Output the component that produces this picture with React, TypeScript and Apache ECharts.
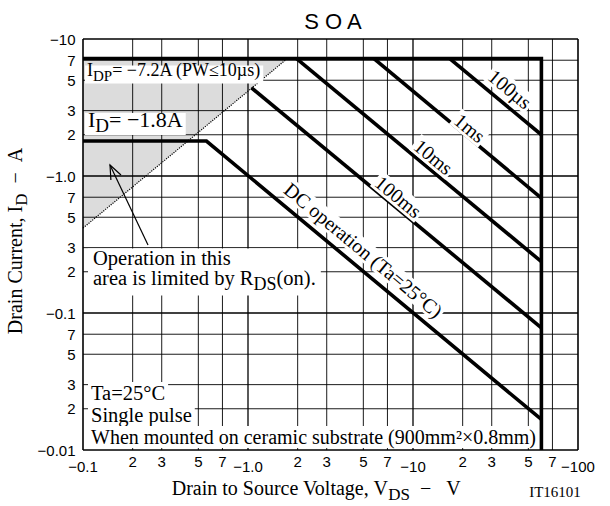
import React, { useEffect, useRef } from 'react';
import * as echarts from 'echarts';

const SERIF = '"Liberation Serif", "Times New Roman", serif';
const SANS = '"Liberation Sans", Arial, sans-serif';

const X_MIN = 0.1;
const X_MAX = 100;
const Y_MIN = 0.01;
const Y_MAX = 10;

const xGridValues = [0.1, 0.2, 0.3, 0.5, 0.7, 1, 2, 3, 5, 7, 10, 20, 30, 50, 70, 100];
const xTickLabels = ['−0.1', '2', '3', '5', '7', '−1.0', '2', '3', '5', '7', '−10', '2', '3', '5', '7', '−100'];
const yGridValues = [0.01, 0.02, 0.03, 0.05, 0.07, 0.1, 0.2, 0.3, 0.5, 0.7, 1, 2, 3, 5, 7, 10];
const yTickLabels = ['−0.01', '2', '3', '5', '7', '−0.1', '2', '3', '5', '7', '−1.0', '2', '3', '5', '7', '−10'];

// SOA boundaries (|VDS| in V, |ID| in A)
const envelopeLine = [[0.1, 7.2], [60, 7.2], [60, 0.01]];
const dcLine = [[0.1, 1.8], [0.56, 1.8], [60, 0.0167]];
const pulse100us = [[16.7, 7.2], [60, 2.0]];
const pulse1ms = [[5.8, 7.2], [60, 0.69]];
const pulse10ms = [[1.97, 7.2], [60, 0.237]];
const pulse100ms = [[1.05, 4.4], [60, 0.078]];
const rdsOnLine = [[0.1, 0.417], [1.73, 7.2]];
const rdsOnArea = [[0.1, 7.2], [1.73, 7.2], [0.1, 0.417]];

const curveLabels = ['100µs', '1ms', '10ms', '100ms', 'DC operation (Ta=25°C)'];
const curveLabelX = [38.7, 22.1, 13.3, 8.15, 5.0];
const curveLabelY = [4.3, 2.24, 1.38, 0.706, 0.288];

function rich(F: number, Fs: number, pb: number) {
  return {
    m: { fontFamily: SERIF, fontSize: F, lineHeight: F, padding: [0, 0, pb, 0], verticalAlign: 'bottom', fill: '#000' },
    s: { fontFamily: SERIF, fontSize: Fs, lineHeight: Fs, verticalAlign: 'bottom', fill: '#000' },
  };
}

function lineSeries(name: string, data: number[][], width = 3.6, dotted = false) {
  return {
    name,
    type: 'line',
    data,
    symbol: 'none',
    showSymbol: false,
    silent: true,
    clip: false,
    z: dotted ? 3 : 4,
    lineStyle: { color: '#000', width, type: dotted ? 'dotted' : 'solid', cap: 'butt', join: 'miter' },
  };
}

function buildOption() {
  const series: any[] = [
    {
      type: 'custom',
      z: 1,
      silent: true,
      data: rdsOnArea,
      encode: { x: 0, y: 1 },
      renderItem: (params: any, api: any) =>
        params.dataIndex === 0
          ? { type: 'polygon', shape: { points: rdsOnArea.map((p) => api.coord(p)) }, style: { fill: '#dcdcdc' } }
          : null,
    },
    {
      type: 'custom',
      z: 2,
      silent: true,
      data: xGridValues.map((v) => [v, Y_MIN]),
      encode: { x: 0, y: 1 },
      renderItem: (params: any, api: any) => {
        const i = params.dataIndex;
        const v = xGridValues[i];
        const a = api.coord([v, Y_MIN]);
        const b = api.coord([v, Y_MAX]);
        const decade = xTickLabels[i].startsWith('−');
        const edge = i === 0 || i === xGridValues.length - 1;
        return {
          type: 'group',
          children: [
            { type: 'line', shape: { x1: a[0], y1: a[1], x2: b[0], y2: b[1] }, style: { stroke: '#000', lineWidth: edge ? 1.6 : decade ? 1.3 : 0.9 } },
            {
              type: 'text',
              x: a[0],
              y: a[1] + (decade ? 16 : 11),
              style: { text: xTickLabels[i], fontFamily: SANS, fontSize: 15, fill: '#000', align: 'center', verticalAlign: 'middle' },
            },
          ],
        };
      },
    },
    {
      type: 'custom',
      z: 2,
      silent: true,
      data: yGridValues.map((v) => [X_MIN, v]),
      encode: { x: 0, y: 1 },
      renderItem: (params: any, api: any) => {
        const i = params.dataIndex;
        const v = yGridValues[i];
        const a = api.coord([X_MIN, v]);
        const b = api.coord([X_MAX, v]);
        const decade = yTickLabels[i].startsWith('−');
        const edge = i === 0 || i === yGridValues.length - 1;
        return {
          type: 'group',
          children: [
            { type: 'line', shape: { x1: a[0], y1: a[1], x2: b[0], y2: b[1] }, style: { stroke: '#000', lineWidth: edge ? 1.6 : decade ? 1.3 : 0.9 } },
            {
              type: 'text',
              x: a[0] - 7.5,
              y: a[1],
              style: { text: yTickLabels[i], fontFamily: SANS, fontSize: 15, fill: '#000', align: 'right', verticalAlign: 'middle' },
            },
          ],
        };
      },
    },
    lineSeries('RDS(on) limit', rdsOnLine, 1.2, true),
    lineSeries('Envelope', envelopeLine),
    lineSeries('DC', dcLine),
    lineSeries('100µs', pulse100us),
    lineSeries('1ms', pulse1ms),
    lineSeries('10ms', pulse10ms),
    lineSeries('100ms', pulse100ms),
    {
      type: 'custom',
      z: 5,
      silent: true,
      data: curveLabelX.map((x, i) => [x, curveLabelY[i]]),
      encode: { x: 0, y: 1 },
      renderItem: (params: any, api: any) => {
        const i = params.dataIndex;
        const x = curveLabelX[i];
        const y = curveLabelY[i];
        const c1 = api.coord([x, y]);
        const c2 = api.coord([x * 10, y / 10]);
        const ang = Math.atan2(c2[1] - c1[1], c2[0] - c1[0]);
        return {
          type: 'text',
          x: c1[0],
          y: c1[1],
          rotation: -ang,
          style: {
            text: curveLabels[i],
            fontFamily: SERIF,
            fontSize: 20,
            fill: '#000',
            align: 'center',
            verticalAlign: 'middle',
            backgroundColor: '#fff',
            padding: [0, 2],
          },
        };
      },
    },
  ];

  const plainText = (text: string, x: number, y: number, size: number) => ({
    type: 'text',
    x,
    y,
    z: 10,
    style: {
      text,
      fontFamily: SERIF,
      fontSize: size,
      lineHeight: 22,
      fill: '#000',
      align: 'left',
      verticalAlign: 'middle',
      backgroundColor: '#fff',
      padding: [0, 3],
    },
  });

  const graphic: any[] = [
    {
      type: 'text',
      x: 333,
      y: 21,
      z: 10,
      style: { text: 'S O A', fontFamily: SANS, fontSize: 22, fill: '#000', align: 'center', verticalAlign: 'middle' },
    },
    {
      type: 'text',
      x: 20,
      y: 241,
      rotation: Math.PI / 2,
      z: 10,
      style: {
        text: '{m|Drain Current, I}{s|D}{m|\u00a0\u00a0−\u00a0\u00a0A}',
        rich: rich(20, 17, 5),
        fill: '#000',
        align: 'center',
        verticalAlign: 'middle',
      },
    },
    {
      type: 'text',
      x: 316,
      y: 493,
      z: 10,
      style: {
        text: '{m|Drain to Source Voltage, V}{s|DS}{m|\u00a0\u00a0−\u00a0\u00a0\u00a0V}',
        rich: rich(20, 17, 5),
        fill: '#000',
        align: 'center',
        verticalAlign: 'middle',
      },
    },
    {
      type: 'text',
      x: 555,
      y: 492,
      z: 10,
      style: { text: 'IT16101', fontFamily: SERIF, fontSize: 15, fill: '#000', align: 'center', verticalAlign: 'middle' },
    },
    {
      type: 'text',
      x: 85,
      y: 74.5,
      z: 10,
      style: {
        text: '{m|I}{s|DP}{m|= −7.2A (PW≤10µs)}',
        rich: rich(18, 15, 5),
        fill: '#000',
        align: 'left',
        verticalAlign: 'middle',
        backgroundColor: '#fff',
        padding: [0, 2],
      },
    },
    {
      type: 'text',
      x: 85,
      y: 124,
      z: 10,
      style: {
        text: '{m|I}{s|D}{m|= −1.8A}',
        rich: rich(22, 19, 5),
        fill: '#000',
        align: 'left',
        verticalAlign: 'middle',
        backgroundColor: '#fff',
        padding: [0, 3],
      },
    },
    {
      type: 'line',
      z: 9,
      shape: { x1: 148, y1: 245, x2: 110, y2: 165 },
      style: { stroke: '#000', lineWidth: 1.2 },
    },
    {
      type: 'polyline',
      z: 9,
      shape: { points: [[110.9, 180], [110, 165], [121, 175]] },
      style: { stroke: '#000', lineWidth: 1.2, fill: 'none' },
    },
    {
      type: 'text',
      x: 88,
      y: 272,
      z: 10,
      style: {
        text: '{m|Operation in this}\n{m|area is limited by R}{s|DS}{m|(on).}',
        rich: rich(20.5, 18, 4),
        fill: '#000',
        align: 'left',
        verticalAlign: 'middle',
        backgroundColor: '#fff',
        padding: [3, 5],
      },
    },
    plainText('Ta=25°C', 88, 393, 20.5),
    plainText('Single pulse', 88, 415, 20.5),
    plainText('When mounted on ceramic substrate (900mm²×0.8mm)', 88, 437, 20),
  ];

  return {
    animation: false,
    backgroundColor: '#fff',
    grid: { left: 83, top: 39, right: 32, bottom: 56, show: false, containLabel: false },
    xAxis: {
      type: 'log',
      logBase: 10,
      min: X_MIN,
      max: X_MAX,
      axisLine: { show: false },
      axisTick: { show: false },
      axisLabel: { show: false },
      splitLine: { show: false },
    },
    yAxis: {
      type: 'log',
      logBase: 10,
      min: Y_MIN,
      max: Y_MAX,
      axisLine: { show: false },
      axisTick: { show: false },
      axisLabel: { show: false },
      splitLine: { show: false },
    },
    series,
    graphic,
  };
}

export default function App() {
  const ref = useRef<HTMLDivElement>(null);
  useEffect(() => {
    document.body.style.margin = '0';
    const chart = echarts.init(ref.current as HTMLDivElement, null, { renderer: 'svg' });
    chart.setOption(buildOption() as any);
    return () => chart.dispose();
  }, []);
  return (
    <div
      ref={ref}
      style={{ position: 'absolute', left: 0, top: 0, width: 610, height: 506, background: '#fff' }}
    />
  );
}
